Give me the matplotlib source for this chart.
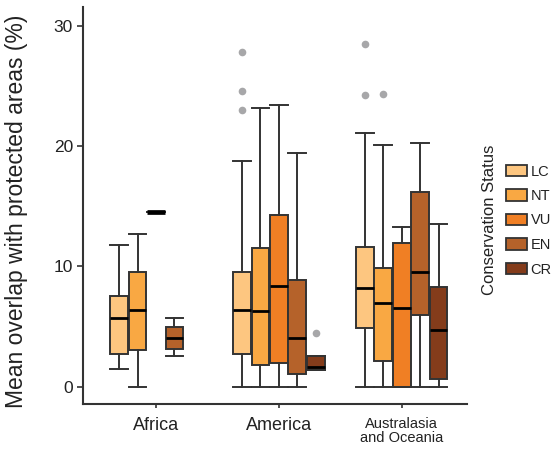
import numpy as np
import matplotlib
matplotlib.use("Agg")
import matplotlib.pyplot as plt
from matplotlib.patches import Patch

plt.rcParams['font.family'] = ['Liberation Sans', 'DejaVu Sans']

regions = ["Africa", "America", "Australasia\nand Oceania"]
statuses = ["LC", "NT", "VU", "EN", "CR"]
colors = ["#FDC680", "#F9A843", "#F07F24", "#B5622A", "#843C1B"]

# rows: statuses (LC, NT, VU, EN, CR); columns: regions (Africa, America, Australasia)
whisker_low = [
    [1.5, 0.0, 0.0],
    [0.0, 0.0, 0.0],
    [14.5, 0.0, 0.0],
    [2.55, 0.0, 0.0],
    [None, 1.39, 0.0],
]
q1 = [
    [2.7, 2.7, 4.85],
    [3.05, 1.8, 2.15],
    [14.5, 2.0, 0.0],
    [3.15, 1.05, 5.95],
    [None, 1.39, 0.65],
]
median = [
    [5.7, 6.4, 8.2],
    [6.4, 6.3, 6.95],
    [14.5, 8.35, 6.5],
    [4.05, 4.05, 9.55],
    [None, 1.65, 4.7],
]
q3 = [
    [7.5, 9.55, 11.65],
    [9.5, 11.5, 9.9],
    [14.5, 14.3, 11.95],
    [4.95, 8.85, 16.15],
    [None, 2.55, 8.3],
]
whisker_high = [
    [11.8, 18.8, 21.05],
    [12.7, 23.2, 20.1],
    [14.5, 23.4, 13.25],
    [5.7, 19.4, 20.25],
    [None, 2.55, 13.5],
]
outliers = [
    [[], [27.8, 24.55, 23.0], [28.5, 24.25]],
    [[], [], [24.3]],
    [[], [], []],
    [[], [], []],
    [[], [4.5], []],
]

fig = plt.figure(figsize=(5.53, 4.49), dpi=100)
ax = fig.add_axes([0.1495, 0.1002, 0.695, 0.8842])

step = 0.15
width = 0.145
edge = "#333333"

for si, st in enumerate(statuses):
    stats, pos = [], []
    for ri in range(len(regions)):
        if median[si][ri] is None:
            continue
        stats.append(dict(whislo=whisker_low[si][ri], q1=q1[si][ri], med=median[si][ri],
                          q3=q3[si][ri], whishi=whisker_high[si][ri],
                          fliers=outliers[si][ri]))
        pos.append(ri + (si - 2) * step)
    res = ax.bxp(stats, positions=pos, widths=width, capwidths=width, patch_artist=True,
                 manage_ticks=False,
                 boxprops=dict(facecolor=colors[si], edgecolor=edge, linewidth=1.4),
                 whiskerprops=dict(color=edge, linewidth=1.4),
                 capprops=dict(color=edge, linewidth=1.4),
                 medianprops=dict(color="black", linewidth=2.0),
                 flierprops=dict(marker="o", markerfacecolor="#A7A7A9", markeredgecolor="none",
                                 markersize=5.5))
    # degenerate boxes (all quantiles equal) are drawn as a thick bar
    for k, s in enumerate(stats):
        if s["q1"] == s["q3"] == s["whislo"] == s["whishi"]:
            res["medians"][k].set_linewidth(3.4)
            res["medians"][k].set_solid_capstyle("butt")

ax.set_xlim(-0.597, 2.532)
ax.set_ylim(-1.44, 31.56)
ax.set_xticks(range(len(regions)))
ax.set_xticklabels(regions)
for lab, fs in zip(ax.get_xticklabels(), [13, 13, 10.5]):
    lab.set_fontsize(fs)
    lab.set_linespacing(1.0)
ax.set_yticks([0, 10, 20, 30])
ax.tick_params(axis="y", labelsize=12.5, length=4, width=1.2, color=edge, labelcolor="#222222", pad=3)
ax.tick_params(axis="x", length=3, width=1.2, color=edge, labelcolor="#222222", pad=6)
for s in ["top", "right"]:
    ax.spines[s].set_visible(False)
for s in ["left", "bottom"]:
    ax.spines[s].set_linewidth(1.5)
    ax.spines[s].set_color(edge)

ax.set_ylabel("Mean overlap with protected areas (%)", fontsize=16.5, color="#222222")
ax.yaxis.set_label_coords(-0.142, 0.486)

handles = [Patch(facecolor=c, edgecolor=edge, linewidth=1.3) for c in colors]
fig.legend(handles, statuses, loc="center left", bbox_to_anchor=(505.7 / 553, 1 - 220.5 / 449),
           frameon=False, fontsize=10.5, handlelength=1.45, handleheight=0.85,
           handletextpad=0.25, labelspacing=0.72, borderpad=0, borderaxespad=0,
           labelcolor="#222222")
fig.text(490 / 553, 1 - 220 / 449, "Conservation Status", rotation=90, ha="center",
         va="center", fontsize=12, color="#222222")

fig.savefig("out.png", dpi=100)
